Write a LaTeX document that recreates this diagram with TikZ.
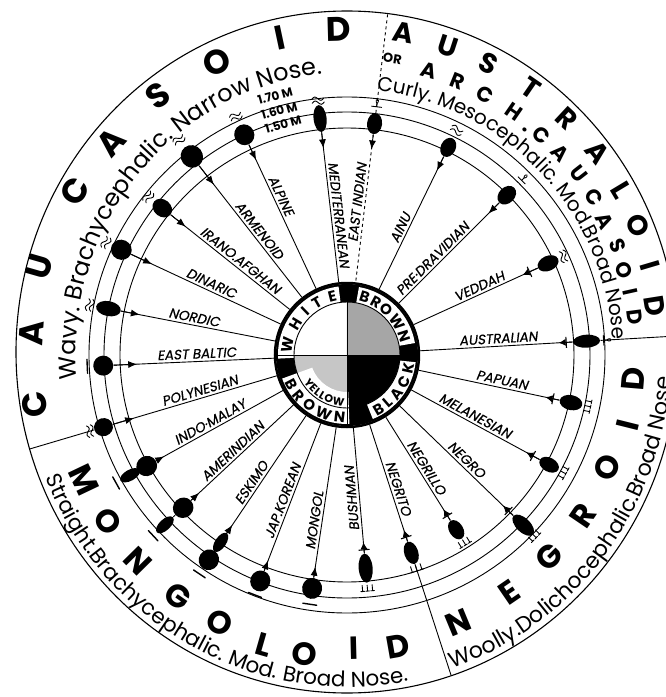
\documentclass[tikz,border=0pt]{standalone}
\usepackage{fontspec}
\setmainfont{Poppins}
\newfontfamily\slantfont[FakeSlant=0.18, FakeBold=0.6]{Poppins}
\usetikzlibrary{positioning, shapes.geometric, arrows.meta, calc, decorations.text}

\begin{document}
\begin{tikzpicture}[x=1pt, y=1pt, line width=0.9pt,
    racedot/.style={ellipse, fill=black, inner sep=0pt},
    spokelabel/.style={font=\slantfont\fontsize{13.5}{13.5}\selectfont, anchor=south, inner sep=2.5pt},
    bigletter/.style={font=\bfseries\fontsize{32}{32}\selectfont, inner sep=0pt},
    midletter/.style={font=\bfseries\fontsize{21}{21}\selectfont, inner sep=0pt},
    tipA/.style={-{Latex[length=9pt,width=7pt]}},
    tipB/.style={-{Bar[width=11pt,line width=1.1pt]Latex[length=7pt,width=7pt]}},
    hairline/.style={line width=0.9pt, line cap=round},
    wavy/.pic={\draw[hairline] (-6,2) sin (-3,4) cos (0,2) sin (3,0) cos (6,2) (-6,-2) sin (-3,0) cos (0,-2) sin (3,-4) cos (6,-2);},
    straightbar/.pic={\draw[hairline, line width=1.4pt] (-7,0) -- (7,0);},
    woolly/.pic={\foreach \k in {-5,0,5} \draw[hairline] (\k-1.8,3) -- (\k+1.8,3) (\k,3) -- (\k,-3);},
    curly/.pic={\draw[hairline] (-5,-3) -- (5,-3) (0,-3) -- (0,0) .. controls (4,6) and (-4,6) .. (0,0);}]
  \useasboundingbox (-347,-342) rectangle (318,355);

  \draw[line width=1.1pt] (0,3) ellipse [x radius=331, y radius=341];
  \foreach \r in {227,243,258} \draw (0,0) circle (\r);

  \fill[black] (0,0) circle (71);
  \fill[white] (0,0) -- (180:53) arc[start angle=180, end angle=90, radius=53] -- cycle;
  \fill[gray!70] (0,0) -- (90:53) arc[start angle=90, end angle=0, radius=53] -- cycle;
  \fill[gray!45] (0,0) -- (180:53) arc[start angle=180, end angle=270, radius=53] -- cycle;
  \foreach \s/\e/\i in {183/97/53, 80/10/53, -68/-6/53, 200/272/37}
    \fill[white] (\s:\i) arc[start angle=\s, end angle=\e, radius=\i] -- (\e:69) arc[start angle=\e, end angle=\s, radius=69] -- cycle;
  \draw (0,0) circle (53);
  \draw[line width=0.6pt] (90:71) -- (270:71) (180:71) -- (0:71);
  \node[circle, draw, line width=2.5pt, minimum size=144pt, inner sep=0pt] (hub) at (0,0) {};
  \path[decorate, decoration={text along path, text align=fit to path, text={|\bfseries\fontsize{15}{15}\selectfont|WHITE}}] (178:55) arc[start angle=178, end angle=100, radius=55];
  \path[decorate, decoration={text along path, text align=fit to path, text={|\bfseries\fontsize{15}{15}\selectfont|BROWN}}] (78:55) arc[start angle=78, end angle=12, radius=55];
  \path[decorate, decoration={text along path, text align=fit to path, text={|\bfseries\fontsize{15}{15}\selectfont|BLACK}}] (-64:68) arc[start angle=-64, end angle=-8, radius=68];
  \path[decorate, decoration={text along path, text align=fit to path, text={|\bfseries\fontsize{15}{15}\selectfont|BROWN}}] (204:68) arc[start angle=204, end angle=268, radius=68];
  \path[decorate, decoration={text along path, text align=fit to path, text={|\bfseries\fontsize{11}{11}\selectfont|YELLOW}}] (212:51) arc[start angle=212, end angle=266, radius=51];

  \foreach \a/\r/\w/\h/\lr/\rot/\d/\tp/\ls/\n [count=\i] in {
    182.5/244/20/20/150/2.5/34/tipA/solid/EAST BALTIC,
    169/243/25/15/157/-11/32/tipA/solid/NORDIC,
    155/249/21/20/153/-25/34/tipA/solid/DINARIC,
    141.5/236/21/17/142/-38.5/30/tipA/solid/IRANO.AFGHAN,
    128/252/23/22/152/-52/36/tipA/solid/ARMENOID,
    115/243/21/20/172/-65/28/tipA/solid/ALPINE,
    96.5/238/27/13/140/-83.5/30/tipA/solid/MEDITERRANEAN,
    83.2/233/21/15/153/83.2/26/tipA/dashed/EAST INDIAN,
    64/231/20/15/138/64/26/tipA/solid/AINU,
    45/226/21/16/129/45/26/tipA/solid/PRE·DRAVIDIAN,
    24.5/221/22/15/149/24.5/28/tipB/solid/VEDDAH,
    3.3/240/27/13/152/3.3/28/tipB/solid/AUSTRALIAN,
    -12/229/23/15/157/-12/26/tipB/solid/PAPUAN,
    -28.5/230/21/14/142/-28.5/26/tipB/solid/MELANESIAN,
    -44/245/27/14/159/-44/28/tipB/solid/NEGRO,
    -58/206/21/14/138/-58/24/tipB/solid/NEGRILLO,
    -72/208/23/14/143/-72/24/tipB/solid/NEGRITO,
    -85/214/29/14/143/95/26/tipB/solid/BUSHMAN,
    -98.5/236/21/20/168/81.5/22/tipA/solid/MONGOL,
    -111/242/21/20/159/69/22/tipA/solid/JAP.KOREAN,
    -124/247/21/20/159/56/42/tipA/solid/ESKIMO,
    -137/224/21/20/149/43/22/tipA/solid/AMERINDIAN,
    -151/229/21/20/152/29/20/tipA/solid/INDO·MALAY,
    196.5/254/19/18/151/16.5/32/tipA/solid/POLYNESIAN}{
    \node[racedot, minimum width=\w pt, minimum height=\h pt, rotate=\a] (m\i) at (\a:\r) {};
    \draw[\ls] (m\i) -- (hub);
    \draw[\tp] (m\i) -- ($(m\i.center)!\d pt!(hub.center)$);
    \node[spokelabel, rotate=\rot] (l\i) at (\a:\lr) {\n};
  }
  \foreach \i/\a/\r in {21/-124/226, 22/-137/249, 23/-151/248}{
    \node[racedot, minimum width=22pt, minimum height=11pt, rotate=\a] (n\i) at (\a:\r) {};
    \draw (n\i) -- (m\i);
  }

  \coordinate (bCM) at (196.5:331);
  \coordinate (bCA) at (83.2:344);
  \coordinate (bAN) at (3.3:331);
  \coordinate (bNM) at (-72:337);
  \draw (m24) -- (bCM);
  \draw[dashed] (m8) -- (bCA);
  \draw (m12) -- (bAN);
  \draw (m17) -- (bNM);

  \foreach \a/\r in {169/262, 155/266, 141.5/254, 128/273, 115/263, 96.5/256, 64/250, 24.5/238, 196.5/268}
    \pic[rotate=\a-90] at (\a:\r) {wavy};
  \foreach \a/\r in {182.5/260, -98.5/252, -111/257, -124/264, -137/265, -151/264}
    \pic[rotate=\a-90] at (\a:\r) {straightbar};
  \foreach \a/\r in {-12/246, -28.5/246, -44/260, -58/221, -72/224, -85/234}
    \pic[rotate=\a-90] at (\a:\r) {woolly};
  \foreach \a/\r in {83.2/253, 45/250, 3.3/260}
    \pic[rotate=\a-90] at (\a:\r) {curly};

  \foreach \t/\r [count=\i] in {1.70 M/269, 1.60 M/253.5, 1.50 M/239}
    \node[font=\bfseries\fontsize{12}{12}\selectfont, inner sep=0pt, rotate=15.5] (h\i) at (105.5:\r) {\t};

  \foreach \a/\r/\l [count=\i] in {189/316/C, 176/316/A, 164/320/U, 149/318/C, 138/318/A, 126/321/S, 114/321/O, 102/324/I, 91.5/326/D}
    \node[bigletter, font=\bfseries\fontsize{34}{34}\selectfont, rotate=\a-90] (cau\i) at (\a:\r) {\l};
  \foreach \a/\r/\l [count=\i] in {80/327/A, 72/325/U, 64/324/S, 55.5/324/T, 47/323/R, 39/322/A, 31/320/L, 24/319/O, 16.5/316/I, 9/312/D}
    \node[bigletter, font=\bfseries\fontsize{28}{28}\selectfont, rotate=\a-90] (aus\i) at (\a:\r) {\l};
  \node[font=\bfseries\fontsize{13}{13}\selectfont, inner sep=0pt, rotate=-9] (or) at (81.3:300) {OR};
  \foreach \a/\r/\l [count=\i] in {74/296/A, 68/295/R, 62/295/C, 55.5/295/H, 51.8/287/., 48.5/294/C, 43.5/294/A, 38/294/U, 32.5/293/C, 27.5/291/A, 22/292/S, 17/290/O, 12.5/290/I, 7.5/290/D}
    \node[midletter, rotate=\a-90] (arc\i) at (\a:\r) {\l};
  \foreach \a/\r/\l [count=\i] in {205.5/291/M, 214.8/291/O, 224.6/293/N, 235/295/G, 244.6/296/O, 254/302/L, 262/302/O, 271.4/293/I, 280/296/D}
    \node[bigletter, rotate=\a+90] (mon\i) at (\a:\r) {\l};
  \foreach \a/\r/\l [count=\i] in {292.5/290/N, 304.4/288/E, 315/286/G, 325.8/286/R, 336.6/284/O, 346/289/I, 355.2/287/D}
    \node[bigletter, rotate=\a+90] (neg\i) at (\a:\r) {\l};

  \path[decorate, decoration={text along path, text align=center, text={|\fontsize{24}{24}\selectfont|Wavy. Brachycephalic. Narrow Nose.}}] (188:271 and 282) arc[start angle=188, end angle=92, x radius=271, y radius=282];
  \path[decorate, decoration={text along path, text align=center, text={|\fontsize{20}{20}\selectfont|Curly. Mesocephalic. Mod.Broad Nose}}] (84:266) arc[start angle=84, end angle=3, radius=266];
  \path[decorate, decoration={text along path, text align=center, text={|\fontsize{21.5}{21.5}\selectfont|Straight.Brachycephalic. Mod. Broad Nose.}}] ([shift={(0,3)}]199:325 and 335) arc[start angle=199, end angle=284, x radius=325, y radius=335];
  \path[decorate, decoration={text along path, text align=left, text={|\fontsize{22}{22}\selectfont|Woolly.Dolichocephalic.Broad Nose}}] ([shift={(0,3)}]289:325 and 335) arc[start angle=289, end angle=370, x radius=325, y radius=335];
\end{tikzpicture}
\end{document}
